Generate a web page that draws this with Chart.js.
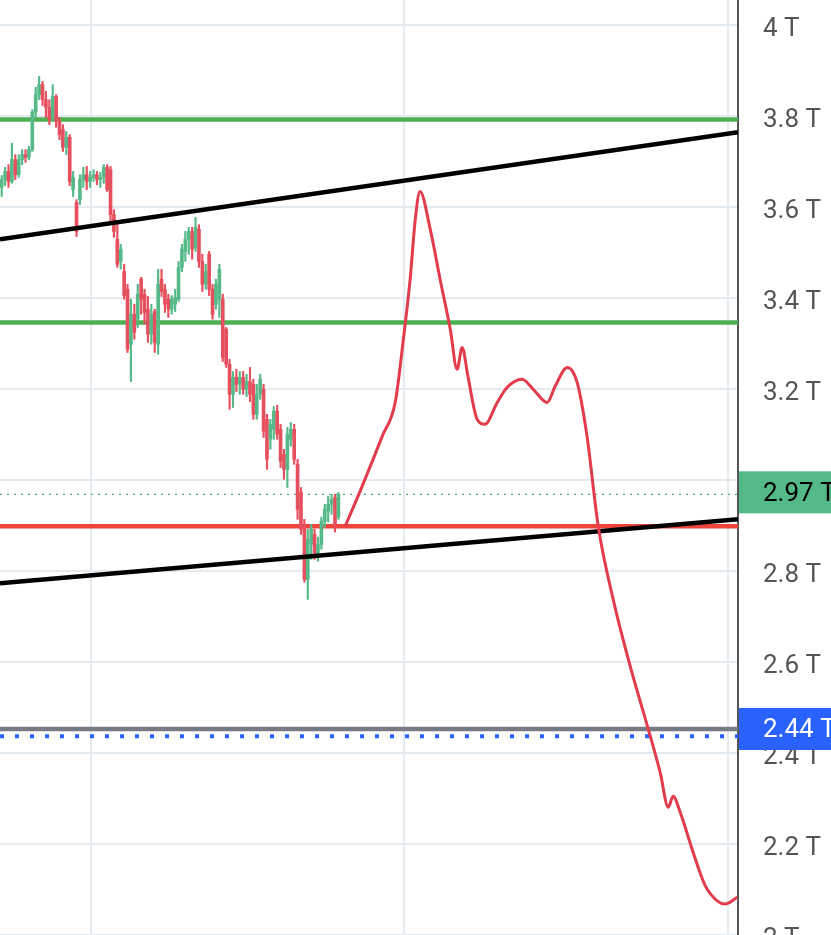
<!DOCTYPE html>
<html>
<head>
<meta charset="utf-8">
<script src="https://cdn.jsdelivr.net/npm/chart.js@4.4.1/dist/chart.umd.min.js"></script>
<style>
  html, body { margin: 0; padding: 0; background: #fff; overflow: hidden; }
  #grafico { display: block; }
</style>
</head>
<body>
<canvas id="grafico" width="831" height="935"></canvas>
<script>
// velas (valores en T)
const apertura = [
  3.644, 3.661, 3.679, 3.657, 3.705, 3.672, 3.705, 3.716, 3.710, 3.727,
  3.809, 3.848, 3.870, 3.837, 3.820, 3.798, 3.844, 3.789, 3.771, 3.732,
  3.754, 3.639, 3.611, 3.617, 3.661, 3.672, 3.657, 3.666, 3.672, 3.661,
  3.666, 3.688, 3.683, 3.584, 3.530, 3.481, 3.459, 3.420, 3.299, 3.365,
  3.354, 3.442, 3.409, 3.376, 3.321, 3.371, 3.299, 3.442, 3.420, 3.398,
  3.376, 3.387, 3.398, 3.468, 3.503, 3.530, 3.547, 3.512, 3.552, 3.481,
  3.431, 3.497, 3.420, 3.387, 3.398, 3.398, 3.332, 3.255, 3.189, 3.226,
  3.211, 3.226, 3.200, 3.217, 3.211, 3.145, 3.189, 3.200, 3.134, 3.090,
  3.112, 3.152, 3.112, 3.057, 3.024, 3.090, 3.112, 3.035, 2.973, 2.897,
  2.782, 2.859, 2.881, 2.837, 2.859, 2.910, 2.932, 2.947, 2.962, 2.919
];
const maximo = [
  3.670, 3.688, 3.694, 3.741, 3.716, 3.716, 3.727, 3.727, 3.734, 3.815,
  3.864, 3.888, 3.877, 3.855, 3.837, 3.870, 3.848, 3.798, 3.782, 3.767,
  3.760, 3.679, 3.617, 3.672, 3.688, 3.690, 3.679, 3.683, 3.679, 3.677,
  3.694, 3.694, 3.690, 3.595, 3.562, 3.519, 3.475, 3.431, 3.398, 3.387,
  3.431, 3.446, 3.420, 3.404, 3.387, 3.376, 3.464, 3.464, 3.431, 3.409,
  3.406, 3.420, 3.481, 3.519, 3.547, 3.556, 3.556, 3.578, 3.562, 3.497,
  3.475, 3.503, 3.431, 3.442, 3.475, 3.409, 3.336, 3.266, 3.239, 3.244,
  3.239, 3.239, 3.233, 3.248, 3.222, 3.211, 3.233, 3.211, 3.145, 3.134,
  3.162, 3.165, 3.123, 3.068, 3.116, 3.127, 3.123, 3.046, 2.984, 2.914,
  2.892, 2.903, 2.892, 2.875, 2.919, 2.947, 2.965, 2.969, 2.969, 2.973
];
const minimo = [
  3.624, 3.648, 3.644, 3.653, 3.661, 3.666, 3.694, 3.699, 3.705, 3.723,
  3.798, 3.837, 3.824, 3.798, 3.782, 3.789, 3.776, 3.749, 3.723, 3.716,
  3.648, 3.624, 3.536, 3.606, 3.644, 3.639, 3.644, 3.657, 3.650, 3.644,
  3.653, 3.635, 3.569, 3.534, 3.468, 3.464, 3.398, 3.281, 3.217, 3.310,
  3.336, 3.365, 3.343, 3.303, 3.299, 3.281, 3.277, 3.404, 3.369, 3.358,
  3.365, 3.371, 3.393, 3.459, 3.481, 3.497, 3.486, 3.503, 3.468, 3.415,
  3.420, 3.406, 3.354, 3.376, 3.358, 3.261, 3.248, 3.156, 3.160, 3.195,
  3.189, 3.189, 3.184, 3.173, 3.134, 3.134, 3.178, 3.094, 3.024, 3.068,
  3.090, 3.090, 3.028, 3.002, 2.984, 3.075, 3.035, 2.914, 2.881, 2.776,
  2.738, 2.826, 2.826, 2.822, 2.848, 2.897, 2.908, 2.925, 2.886, 2.914
];
const cierre = [
  3.661, 3.679, 3.657, 3.705, 3.672, 3.705, 3.716, 3.710, 3.727, 3.809,
  3.848, 3.870, 3.837, 3.820, 3.793, 3.844, 3.789, 3.760, 3.732, 3.754,
  3.657, 3.666, 3.547, 3.661, 3.672, 3.657, 3.666, 3.672, 3.661, 3.666,
  3.688, 3.639, 3.584, 3.547, 3.475, 3.508, 3.406, 3.288, 3.365, 3.325,
  3.409, 3.398, 3.369, 3.321, 3.365, 3.303, 3.431, 3.415, 3.387, 3.376,
  3.398, 3.402, 3.468, 3.508, 3.530, 3.547, 3.508, 3.556, 3.481, 3.431,
  3.459, 3.420, 3.365, 3.431, 3.464, 3.270, 3.255, 3.189, 3.226, 3.211,
  3.226, 3.200, 3.217, 3.189, 3.145, 3.189, 3.222, 3.108, 3.046, 3.123,
  3.152, 3.101, 3.042, 3.024, 3.101, 3.112, 3.046, 2.936, 2.892, 2.782,
  2.870, 2.892, 2.837, 2.859, 2.910, 2.936, 2.947, 2.958, 2.903, 2.969
];

// curva dibujada a mano (proyeccion)
const curvaX = [101.5, 105.9, 109.7, 112.4, 116.2, 118.5, 120.6, 122.1, 123.5, 126.5,
  129.4, 132.4, 134.4, 135.9, 137.6, 140.3, 142.6, 146.2, 149.1, 153.5,
  156.8, 160.9, 163.2, 166.8, 169.7, 172.6, 175.9, 180.3, 185.3, 190.6,
  194.1, 196.5, 197.9, 200.0, 203.8, 207.4, 210.9, 213.2, 216.8];
const curvaY = [2.899, 2.976, 3.046, 3.097, 3.171, 3.303, 3.442, 3.573, 3.635, 3.552,
  3.442, 3.332, 3.244, 3.292, 3.228, 3.134, 3.123, 3.171, 3.204, 3.222,
  3.200, 3.171, 3.206, 3.248, 3.215, 3.097, 2.899, 2.738, 2.591, 2.453,
  2.358, 2.281, 2.305, 2.270, 2.182, 2.108, 2.075, 2.068, 2.083];

// niveles
const nivelesVerdes = [3.793, 3.347];
const nivelRojo = 2.899;
const nivelGris = 2.453;
const nivelAzul = 2.437;
const etiquetaAzul = '2.44 T';
const tendenciaSup = [3.530, 3.765];
const tendenciaInf = [2.7735, 2.914];

const ticksY = [2.0, 2.2, 2.4, 2.6, 2.8, 3.0, 3.2, 3.4, 3.6, 3.8, 4.0];
const lineasX = [26.8, 118.8, 214.2];
const X_MAX = 217;

const VERDE = '#56b98a';
const ROJO = '#e6505e';
const GRID = '#e3eaf0';

const colores = apertura.map((o, i) => cierre[i] >= o ? VERDE : ROJO);
const ultimo = cierre[cierre.length - 1];

const lineaHorizontal = (valor, color, ancho, dash, orden) => ({
  type: 'line',
  data: [{ x: 0, y: valor }, { x: X_MAX, y: valor }],
  borderColor: color,
  borderWidth: ancho,
  borderDash: dash || [],
  pointRadius: 0,
  order: orden,
});

const etiquetas = {
  id: 'etiquetas',
  afterDraw(chart) {
    const { ctx, chartArea, scales: { y } } = chart;
    const caja = (valor, texto, fondo, color, ajuste) => {
      const yc = y.getPixelForValue(valor) + ajuste;
      ctx.save();
      ctx.fillStyle = fondo;
      ctx.fillRect(chartArea.right + 1, yc - 21, chart.width - chartArea.right, 42);
      ctx.fillStyle = color;
      ctx.font = '26px Roboto';
      ctx.textBaseline = 'middle';
      ctx.fillText(texto, chartArea.right + 25, yc + 2);
      ctx.restore();
    };
    caja(ultimo, `${ultimo.toFixed(2)} T`, '#53b987', '#000', -2);
    caja(nivelGris, etiquetaAzul, '#2962ff', '#fff', 0);
  }
};

new Chart(document.getElementById('grafico'), {
  type: 'bar',
  data: {
    datasets: [
      {
        type: 'line',
        data: curvaX.map((x, i) => ({ x, y: curvaY[i] })),
        borderColor: '#e23c4c',
        borderWidth: 3,
        pointRadius: 0,
        cubicInterpolationMode: 'monotone',
        order: 0,
      },
      {
        type: 'line',
        data: [{ x: 0, y: tendenciaSup[0] }, { x: X_MAX, y: tendenciaSup[1] }],
        borderColor: '#000', borderWidth: 4.5, pointRadius: 0, order: 1,
      },
      {
        type: 'line',
        data: [{ x: 0, y: tendenciaInf[0] }, { x: X_MAX, y: tendenciaInf[1] }],
        borderColor: '#000', borderWidth: 4.5, pointRadius: 0, order: 1,
      },
      {
        type: 'bar',
        data: apertura.map((o, i) => ({ x: i + 0.5, y: [o, cierre[i]] })),
        backgroundColor: colores,
        barThickness: 3,
        minBarLength: 1,
        grouped: false,
        order: 2,
      },
      {
        type: 'bar',
        data: apertura.map((o, i) => ({ x: i + 0.5, y: [minimo[i], maximo[i]] })),
        backgroundColor: colores,
        barThickness: 1.5,
        grouped: false,
        order: 3,
      },
      lineaHorizontal(nivelesVerdes[0], '#4caf50', 4.5, null, 4),
      lineaHorizontal(nivelesVerdes[1], '#4caf50', 4.5, null, 4),
      lineaHorizontal(nivelRojo, '#f0433a', 4.5, null, 4),
      lineaHorizontal(nivelGris, '#787b86', 4.5, null, 4),
      lineaHorizontal(nivelAzul, '#2962ff', 4, [4, 11], 4),
      lineaHorizontal(ultimo, '#4caf80', 1.2, [2, 5], 5),
    ]
  },
  options: {
    responsive: false,
    animation: false,
    events: [],
    layout: { padding: 0 },
    plugins: { legend: { display: false }, tooltip: { enabled: false } },
    scales: {
      x: {
        type: 'linear',
        min: 0,
        max: X_MAX,
        offset: false,
        grid: { color: GRID, lineWidth: 2, drawTicks: false, offset: false },
        border: { display: false },
        ticks: { display: false },
        afterBuildTicks: (s) => { s.ticks = lineasX.map((v) => ({ value: v })); },
        afterFit: (s) => { s.height = 0; s.paddingLeft = 0; s.paddingRight = 0; },
      },
      y: {
        type: 'linear',
        position: 'right',
        min: 2.0,
        max: 4.056,
        grid: { color: GRID, lineWidth: 2, drawTicks: false },
        border: { color: '#555', width: 2 },
        ticks: {
          color: '#555',
          padding: 25,
          labelOffset: 4,
          font: { family: 'Roboto', size: 26 },
          callback: (v) => `${+Number(v).toFixed(1)} T`,
        },
        afterBuildTicks: (s) => { s.ticks = ticksY.map((v) => ({ value: v })); },
        afterFit: (s) => { s.width = 93; s.paddingTop = 0; s.paddingBottom = 0; },
      }
    }
  },
  plugins: [etiquetas]
});
</script>
</body>
</html>
